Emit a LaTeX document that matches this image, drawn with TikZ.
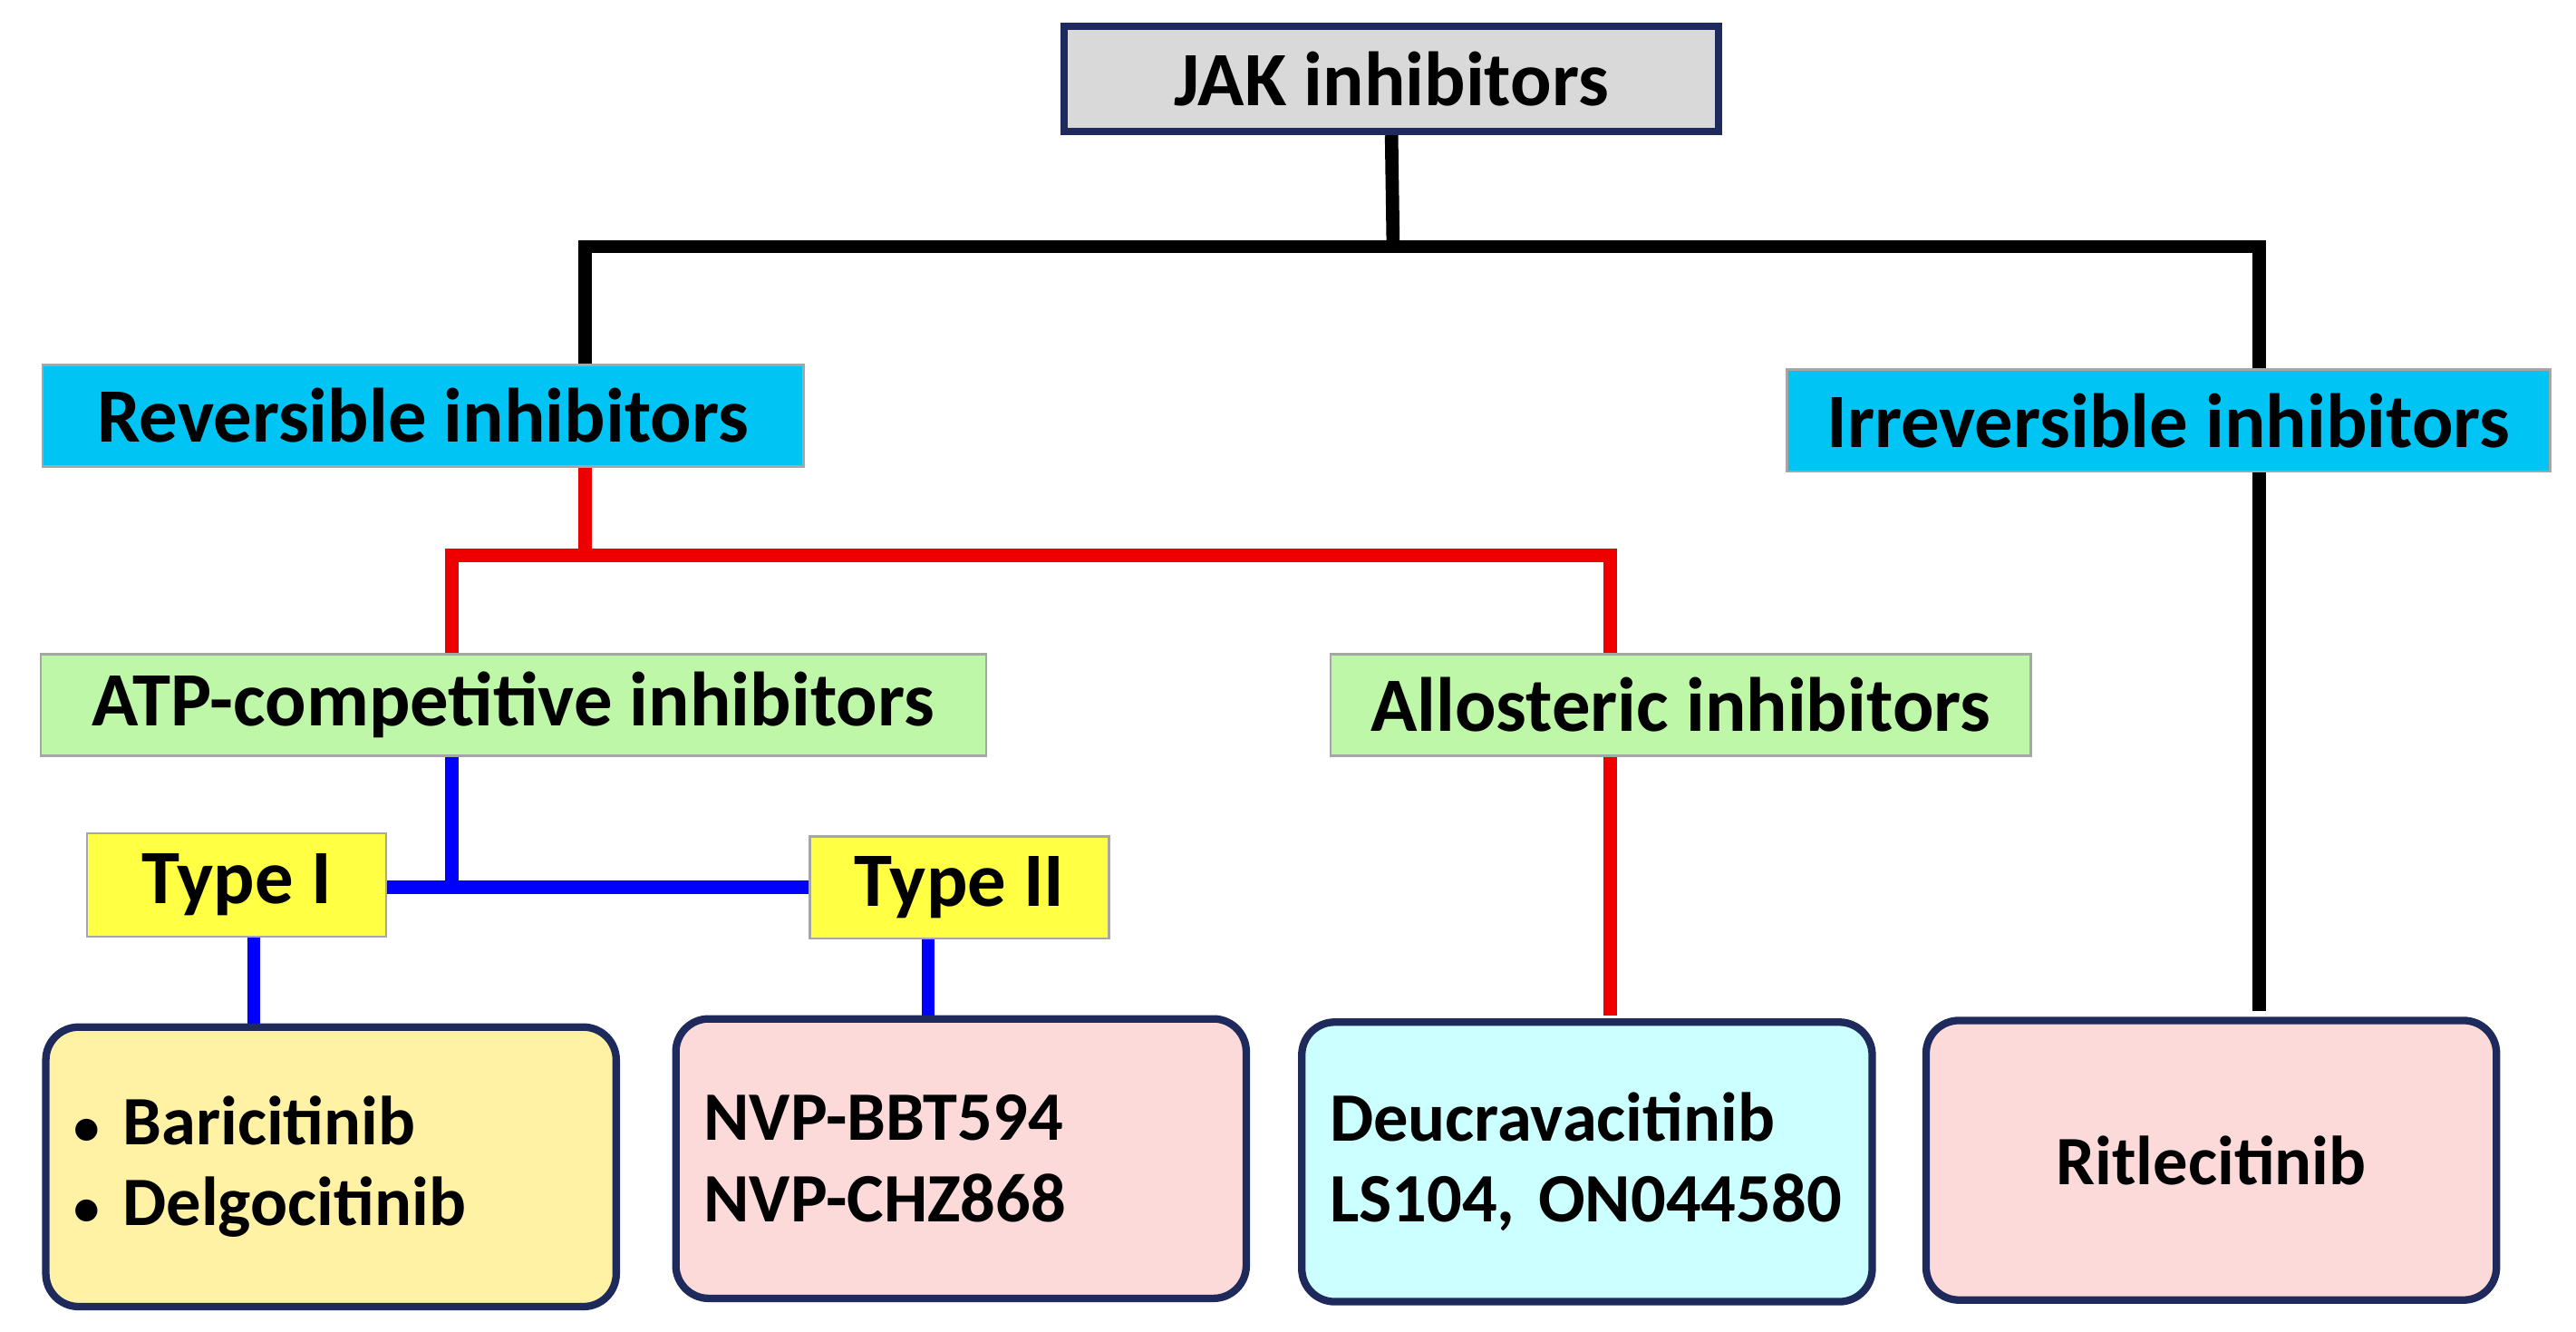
\documentclass[tikz,border=0pt]{standalone}
\usepackage{fontspec}
\setmainfont{Carlito}
\usetikzlibrary{positioning}
\definecolor{navy}{HTML}{1F2A5C}
\definecolor{jakgray}{HTML}{D9D9D9}
\definecolor{clsblue}{HTML}{00C4F4}
\definecolor{subgreen}{HTML}{BFF7A8}
\definecolor{typeyel}{HTML}{FFFF44}
\definecolor{drugyel}{HTML}{FFF2A4}
\definecolor{drugpink}{HTML}{FCDADA}
\definecolor{drugcyan}{HTML}{CCFFFF}
\definecolor{linered}{HTML}{EE0000}
\definecolor{lineblue}{HTML}{0000FF}
\pgfdeclarelayer{background}
\pgfsetlayers{background,main}
\newcommand{\drugdot}{{\fontsize{9}{9}\selectfont\textbullet}\ }
\tikzset{
  lbl/.style={font=\fontsize{13.3}{14}\selectfont\bfseries, inner sep=0pt},
  flat/.style={lbl, draw=gray!70, line width=0.4pt, minimum height=0.62cm},
  drug/.style={lbl, font=\fontsize{12}{14}\selectfont\bfseries, draw=navy, line width=1.3pt, rounded corners=0.2cm,
    minimum width=3.47cm, minimum height=1.7cm, align=left, text width=3.13cm},
  blk/.style={line width=2.3pt, black},
  redl/.style={line width=2.3pt, linered},
  bluel/.style={line width=2.3pt, lineblue}
}
\begin{document}
\begin{tikzpicture}[x=0.01cm, y=-0.01cm]
\useasboundingbox (0,0) rectangle (1568,810);
% header
\node[lbl, draw=navy, line width=1.3pt, fill=jakgray, minimum width=3.98cm, minimum height=0.64cm] (jak) at (847,48) {JAK inhibitors};
% classes
\node[flat, fill=clsblue, minimum width=4.63cm] (rev) at (257.5,253) {Reversible inhibitors};
\node[flat, fill=clsblue, minimum width=4.64cm] (irr) at (1320,256) {Irreversible inhibitors};
\node[flat, fill=subgreen, minimum width=5.75cm] (atp) at (312.5,429) {ATP-competitive inhibitors};
\node[flat, fill=subgreen, minimum width=4.26cm] (allo) at (1023,429) {Allosteric inhibitors};
\node[flat, fill=typeyel, minimum width=1.82cm, minimum height=0.63cm] (typeI) at (144,538.5) {Type I};
\node[flat, fill=typeyel, minimum width=1.82cm] (typeII) at (584,540) {Type II};
% drugs
\node[drug, fill=drugyel] (bari) at (201.5,710) {\drugdot Baricitinib\\\drugdot Delgocitinib};
\node[drug, fill=drugpink] (nvp) at (585,705) {NVP-BBT594\\NVP-CHZ868};
\node[drug, fill=drugcyan] (deuc) at (966,707) {Deucravacitinib\\LS104, ON044580};
\node[drug, fill=drugpink, align=center] (ritl) at (1346,706) {Ritlecitinib};
% connectors
\coordinate (topbar) at (848,150);
\coordinate (irrtop) at (1375,150);
\coordinate (irrend) at (1375,615);
\coordinate (redbar) at (356,338);
\coordinate (atptop) at (275,398);
\coordinate (allotop) at (980,338);
\coordinate (alloend) at (980,618);
\coordinate (atpfoot) at (275,460);
\coordinate (typeIIfoot) at (565,571);
\begin{pgfonlayer}{background}
\draw[blk] (jak.south) -- (topbar);
\draw[blk] (rev.north -| redbar) |- (irrtop) -- (irrend);
\draw[redl] (rev.south -| redbar) -- (redbar);
\draw[redl] (atptop) |- (allotop) -- (alloend);
\draw[bluel] (atpfoot) -- (atpfoot |- typeII.west);
\draw[bluel] (typeI.east |- typeII.west) -- (typeII.west);
\draw[bluel] ([xshift=3]typeI.south) -- ([xshift=3]typeI.south |- bari.north);
\draw[bluel] (typeIIfoot) -- (typeIIfoot |- nvp.north);
\end{pgfonlayer}
\end{tikzpicture}
\end{document}
